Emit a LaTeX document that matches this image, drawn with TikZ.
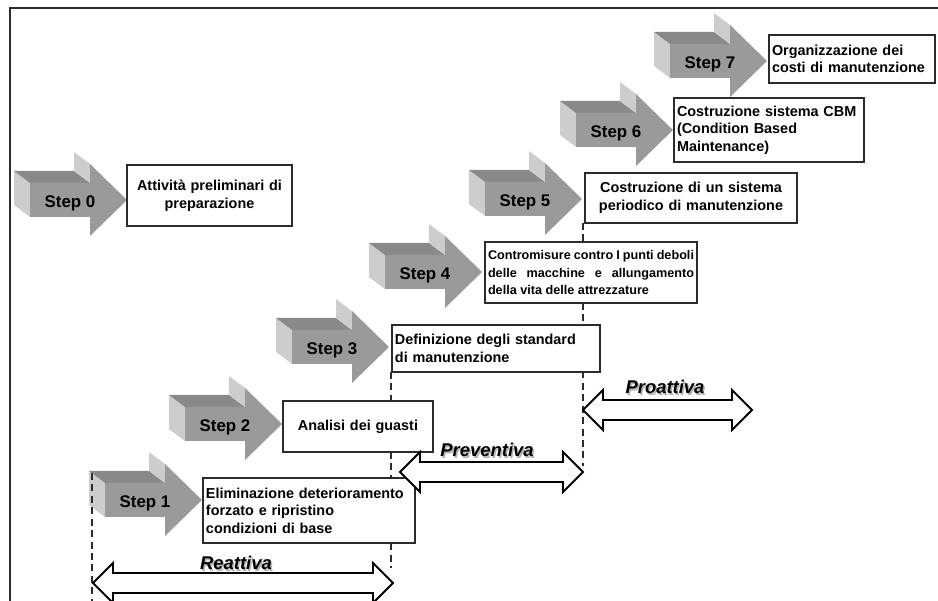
\documentclass[tikz,border=0pt]{standalone}
\usepackage{fontspec}
\setmainfont{Liberation Sans}
\definecolor{facefront}{HTML}{9A9A9A}
\definecolor{facetop}{HTML}{898989}
\definecolor{faceside}{HTML}{CDCDCD}
\definecolor{inkgray}{HTML}{2B2B2B}
\hyphenpenalty=10000
\exhyphenpenalty=10000

% 3D block arrow with its tip at (#2,#3); #1 names the label node
\newcommand\StepArrow[4]{%
  \begin{scope}[shift={(#2,#3)}]
    \fill[faceside] (-97,-17) -- (-97,17) -- (-113,5) -- (-113,-29) -- cycle;
    \fill[facetop] (-97,-17) -- (-37,-17) -- (-53,-29) -- (-113,-29) -- cycle;
    \fill[faceside] (-37,-36) -- (-37,-17) -- (-53,-29) -- (-53,-48) -- cycle;
    \fill[facefront] (-97,-17) -- (-37,-17) -- (-37,-36) -- (0,0) -- (-37,36)
      -- (-37,17) -- (-97,17) -- cycle;
    \node[steplabel] (#1) at (-57,3) {#4};
  \end{scope}}

% text box given by its corners (#3,#4) and (#5,#6)
\newcommand\TextBox[8][]{%
  \pgfmathsetmacro\boxw{(#5-#3)*0.02}%
  \pgfmathsetmacro\boxh{(#6-#4)*0.02}%
  \pgfmathsetmacro\boxtw{(#5-#3-6)*0.02}%
  \node[boxst, #1, align=#7, minimum width=\boxw cm, minimum height=\boxh cm,
        text width=\boxtw cm] (#2) at ({(#3+#5)/2},{(#4+#6)/2}) {#8};}

% outlined double-headed arrow from x=#1 to x=#2 at height #3
\newcommand\PhaseArrow[3]{%
  \draw[phase] (#1,#3) -- ++(20,-20) -- ++(0,10) -- (#2-20,#3-10) -- ++(0,-10)
    -- (#2,#3) -- ++(-20,20) -- ++(0,-10) -- (#1+20,#3+10) -- ++(0,10) -- cycle;}

% phase name with a soft drop shadow
\newcommand\PhaseLabel[4]{%
  \node[phaselabel, text=black!30] (#1-shadow) at (#2+1.5,#3+1.5) {#4};
  \node[phaselabel] (#1) at (#2,#3) {#4};}

\begin{document}
\begin{tikzpicture}[x=0.02cm, y=-0.02cm,
  steplabel/.style={font=\fontsize{9.6}{11}\selectfont\bfseries, text=black, inner sep=0pt},
  boxst/.style={draw=inkgray, line width=0.85pt, fill=white, inner xsep=0.06cm,
    inner ysep=2pt, font=\fontsize{8.2}{10}\selectfont\bfseries},
  smalltext/.style={font=\fontsize{7.2}{10}\selectfont\bfseries},
  guide/.style={draw=inkgray, line width=0.9pt, dash pattern=on 4pt off 2.5pt},
  phase/.style={draw=black, line width=1.1pt, fill=white, line join=miter},
  phaselabel/.style={font=\fontsize{10.5}{12}\selectfont\bfseries\itshape, inner sep=0pt},
  frame/.style={draw=inkgray, line width=0.9pt}]
\useasboundingbox (0,0) rectangle (938,601);
\clip (0,0) rectangle (938,601);

% outer frame
\draw[frame] (938,8) -- (10,8) -- (10,601);

% staircase of steps
\StepArrow{s0}{127}{200}{Step 0}
\StepArrow{s1}{202}{500}{Step 1}
\StepArrow{s2}{282}{424}{Step 2}
\StepArrow{s3}{389}{347}{Step 3}
\StepArrow{s4}{482}{272}{Step 4}
\StepArrow{s5}{582}{199}{Step 5}
\StepArrow{s6}{673}{130}{Step 6}
\StepArrow{s7}{767}{61}{Step 7}

% phase boundaries
\coordinate (g1top) at (92,473);
\coordinate (g1end) at (92,601);
\coordinate (g2end) at (391,568);
\coordinate (g3end) at (583,466);
\draw[guide] (g1top) -- (g1end);
\draw[guide] (391,372) -- (g2end);
\draw[guide] (583,223) -- (g3end);

% step descriptions
\TextBox{b0}{127}{165}{292}{226}{center}{Attività preliminari di\\preparazione}
\TextBox{b1}{203}{478}{415}{543}{left}{Eliminazione deterioramento\\forzato e ripristino\\condizioni di base}
\TextBox{b2}{283}{401}{433}{452}{center}{Analisi dei guasti}
\TextBox{b3}{392}{325}{600}{372}{left}{Definizione degli standard\\di manutenzione}
\TextBox[smalltext]{b4}{485}{242}{697}{303}{justify}{Contromisure contro I punti deboli\linebreak delle macchine e allungamento\linebreak della vita delle attrezzature}
\TextBox{b5}{585}{173}{797}{223}{center}{Costruzione di un sistema\\periodico di manutenzione}
\TextBox{b6}{674}{98}{864}{162}{left}{Costruzione sistema CBM\\(Condition Based\\Maintenance)}
\TextBox{b7}{769}{35}{935}{83}{left}{Organizzazione dei\\costi di manutenzione}

% maintenance phases
\PhaseArrow{93}{393}{583}
\PhaseArrow{400}{583}{472}
\PhaseArrow{583}{752}{410}
\PhaseLabel{reattiva}{236}{563}{Reattiva}
\PhaseLabel{preventiva}{487}{450}{Preventiva}
\PhaseLabel{proattiva}{665}{387}{Proattiva}
\end{tikzpicture}
\end{document}
